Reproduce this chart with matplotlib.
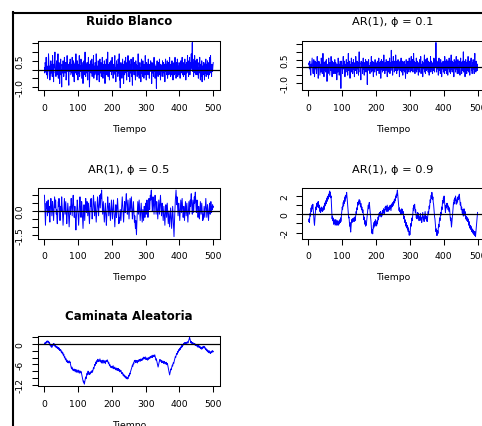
import numpy as np
import matplotlib.pyplot as plt
from matplotlib.lines import Line2D

# --- series (500 observations each) ---
ruido_blanco = [
    0.1, -0.2, 0.4, 0.3, -0.1, 0.7, -0.3, 0.0, 0.2, -0.5, -0.2, 0.1, 0.9, 0.4, -0.1, 0.2, -0.6, -0.3, 0.1, 0.5, -0.2, 0.0, 0.3, -0.4, 0.8,
    0.2, -0.1, -0.7, 0.3, 0.1, 0.6, 1.0, -0.2, 0.0, -0.4, 0.3, 0.5, -0.1, -0.3, 0.2, 0.9, -0.5, 0.1, 0.4, -0.2, -0.8, -0.1, 0.2, 0.6, -0.3,
    0.0, -1.0, 0.3, 0.2, -0.2, 0.5, 0.1, -0.4, -0.1, 0.7, 0.3, -0.2, 0.0, 0.4, -0.6, -0.3, 0.2, 0.8, 0.1, -0.1, 0.3, -0.5, -0.9, 0.2, 0.4,
    -0.1, 0.6, 0.2, -0.3, 0.0, 0.3, -0.2, 0.7, 0.1, -0.4, 0.2, 0.5, -0.1, -0.7, 0.3, 0.0, 0.4, -0.2, 0.9, 0.1, -0.3, -0.1, 0.5, 0.2, -0.6,
    0.3, 0.1, -0.2, 0.8, -0.4, 0.0, 0.2, -0.1, 0.6, 0.3, -0.5, -0.2, 0.1, 0.4, -0.8, 0.2, 0.0, 0.5, -0.3, 0.1, 1.0, -0.1, -0.4, 0.3, 0.2,
    -0.2, 0.4, 0.0, -0.6, 0.2, 0.7, -0.1, 0.3, -1.0, -0.3, 0.1, 0.5, 0.2, -0.2, 0.0, 0.6, -0.4, 0.1, 0.3, -0.1, 0.8, -0.5, 0.2, 0.0, -0.3,
    0.4, 0.1, -0.2, 0.9, 0.3, -0.6, 0.0, 0.2, -0.3, 0.5, 0.1, -0.1, -0.7, 0.3, 0.6, -0.2, 0.0, 0.4, -0.4, 0.2, -0.1, 0.7, 0.1, -0.5, 0.3,
    0.0, -0.2, 0.5, 0.2, -0.8, 0.1, 0.3, -0.1, 0.6, -0.3, 0.2, 0.0, 1.0, -0.4, 0.1, 0.3, -0.2, -0.6, 0.4, 0.1, -0.1, 0.5, 0.2, -0.3, 0.0,
    0.7, -0.1, 0.2, -0.5, 0.3, 0.0, -0.2, 0.4, 0.8, -0.3, 0.1, -0.7, 0.2, 0.5, -0.1, 0.0, 0.3, -0.4, 0.6, 0.1, -0.2, 0.9, -0.6, 0.2, -1.05,
    0.1, 0.4, -0.2, 0.3, -0.5, 0.0, 0.6, 0.2, -0.1, -0.8, 0.3, 0.1, -0.3, 0.5, 0.0, 0.7, -0.2, 0.2, -0.6, 0.4, 0.1, -0.1, 0.8, -0.4, 0.2,
    0.0, 0.5, -0.7, 0.1, 0.3, -0.2, 0.6, 0.2, -0.4, 0.0, -0.9, 0.3, 0.7, -0.1, 0.2, -0.3, 0.4, 0.1, -0.2, -0.6, 0.5, 0.0, 0.3, 0.1, -0.4,
    0.2, -0.1, 0.9, -0.3, 0.1, -0.5, 0.2, 0.4, 0.0, 0.1, -0.7, 0.3, 0.6, -0.2, 0.0, -0.4, 0.5, -0.1, 0.2, -0.5, 0.3, 0.1, -0.3, 0.8, 0.0,
    0.2, -0.6, 0.4, -0.1, 0.3, 0.0, -0.3, 0.6, -0.2, 0.1, -0.5, 0.3, 0.2, -0.1, 0.5, 0.0, 0.2, -0.8, 0.4, 0.1, -0.2, 0.3, -0.4, 0.1, 0.7,
    -0.1, 0.3, -0.5, 0.0, 0.2, -0.3, -1.08, 0.1, 0.5, -0.2, 0.0, -0.4, 0.4, 0.1, -0.3, 0.6, 0.0, 0.2, -0.6, 0.3, -0.1, 0.2, 0.0, -0.4, 0.5,
    -0.2, 0.1, 0.4, -0.4, 0.0, 0.3, -0.7, 0.2, 0.6, -0.1, 0.3, -0.3, 0.0, 0.5, -0.5, 0.1, -0.1, 0.4, -0.3, 0.2, 0.7, -0.2, 0.0, -0.4, 0.3,
    0.1, -0.3, 0.5, -0.1, 0.3, -0.6, 0.2, 0.0, 0.4, -0.3, 0.1, 0.7, -0.2, 0.3, -0.5, 0.0, 0.4, -0.1, 0.6, -0.4, 0.2, 0.0, -0.3, 0.4, -0.1,
    0.3, -0.5, 0.1, 0.5, -0.2, 0.4, 0.0, 0.7, -0.3, 0.2, 0.0, -0.4, 0.4, 0.1, -0.3, 0.6, -0.1, 0.3, -0.6, 0.1, 0.4, -0.2, 0.3, 0.8, -0.1,
    0.2, -0.4, 0.5, 0.1, 0.7, -0.3, 0.3, 0.4, 0.0, 0.9, 0.1, 0.4, 1.55, -0.1, 0.6, 0.2, -0.4, 0.4, 0.0, 0.8, -0.2, 0.3, 0.5, -0.3, 0.1,
    0.0, 0.6, -0.3, 0.2, 0.4, -0.5, 0.1, -0.2, 0.3, 0.7, -0.1, -0.6, 0.3, 0.0, -0.4, 0.5, -0.7, 0.1, 0.2, -0.3, 0.4, -0.1, 0.3, -0.6, 0.1,
    0.4, -0.2, 0.6, -0.4, 0.1, 0.3, -0.3, 0.5, -0.1, 0.2, -0.5, 0.4, 0.0, -0.3, 0.7, -0.1, 0.8, -0.2, 0.1, -0.4, 0.3, 0.0, -0.1, 0.2, 0.4,
]

ar_01 = [
    0.2, 0.3, -0.1, 0.4, 0.1, -0.3, -0.5, 0.2, 0.0, 0.3, 0.6, 0.2, -0.2, -0.4, 0.1, 0.5, 0.2, -0.6, -0.2, 0.4, 0.1, -0.1, 0.3, -0.4, 0.0,
    0.7, 0.2, 0.1, -0.7, -0.2, 0.4, 0.0, 0.3, -0.5, -0.1, 0.2, -0.3, 0.6, 0.1, 0.0, -0.4, 0.3, 0.9, 0.2, -0.1, -0.6, 0.3, 0.1, -0.2, 0.4,
    -0.3, 0.1, 0.5, 0.0, -0.9, -0.2, 0.2, -0.4, 0.1, 0.6, 0.2, 0.3, -0.5, -0.1, 0.3, -0.2, 0.7, 0.1, 0.0, -0.6, 0.4, 0.2, -0.2, 0.3, -0.4,
    0.1, -0.1, 0.5, -0.4, 0.0, 0.3, -0.2, 0.1, -0.8, 0.2, 0.1, -0.3, 0.6, 0.0, 0.2, -0.5, 0.2, -0.1, 0.4, -0.3, -1.35, -0.2, 0.4, 0.0, 0.1,
    -0.4, 0.2, 0.7, -0.1, 0.1, 0.0, 0.4, -0.6, 0.1, 0.2, -0.3, 0.5, 0.2, -0.1, 0.3, -0.5, 0.0, 0.9, -0.2, 0.1, 0.0, 0.4, -0.7, 0.2, 0.1,
    -0.2, 0.6, -0.3, 0.0, 0.3, -0.4, 0.1, 0.5, -0.1, 0.2, -0.6, 0.3, 0.1, -0.2, 0.7, 0.0, 0.1, -0.4, 0.4, 0.2, -0.1, 0.3, -0.5, 0.1, 1.0,
    0.1, 0.3, -0.3, 0.0, -0.8, 0.4, 0.2, 0.0, 0.3, -0.4, 0.1, 0.6, -0.1, 0.1, -0.5, 0.3, -0.1, 0.2, 0.5, -0.3, 0.0, -0.2, 0.4, -1.1, 0.0,
    0.3, 0.1, 0.5, -0.2, 0.1, 0.0, -0.4, 0.3, 0.2, -0.1, 0.7, -0.3, 0.0, -0.2, 0.4, 0.1, -0.6, 0.3, 0.0, 0.2, -0.3, 0.5, 0.1, -0.1, 0.3,
    -0.5, 0.2, 0.0, 0.4, -0.2, 0.1, 0.0, 0.6, -0.4, 0.3, 0.1, -0.2, 0.4, -0.7, 0.2, 0.5, -0.1, 0.0, -0.3, 0.4, 0.2, -0.2, 0.8, 0.0, 0.2,
    -0.4, 0.3, 0.0, -0.2, 0.5, -0.1, 0.4, -0.6, 0.1, 0.0, 0.4, -0.3, 0.2, 0.0, 0.6, -0.4, 0.0, 0.3, -0.2, 1.1, 0.0, 0.4, 0.1, -0.5, 0.2,
    0.7, 0.1, 0.3, -0.3, 0.4, 0.1, -0.2, 0.8, 0.0, 0.1, -0.4, 0.4, 0.2, -0.2, 0.5, 0.1, -0.1, 0.3, -0.6, 0.1, 0.4, -0.2, 0.0, 0.6, -0.3,
    0.2, 0.0, 0.4, -0.5, 0.1, 0.3, -0.2, 0.4, 0.1, -0.3, 0.2, -0.7, 0.0, 0.5, -0.1, 0.3, -0.4, 0.1, 0.4, 0.0, 0.2, -0.3, 0.6, -0.1, 0.0,
    0.4, -0.3, 0.1, 0.7, -0.2, 0.3, 0.0, 0.5, -0.3, 0.2, 0.9, 0.0, 0.4, 0.1, -0.4, 0.3, 0.1, -0.2, 0.6, -0.3, 0.1, 0.4, -0.1, 0.2, -0.5,
    0.3, 0.1, -0.3, 0.5, 0.2, 0.0, 0.7, -0.4, 0.2, 0.0, -0.2, 0.4, -0.6, 0.3, 0.1, -0.1, 0.4, 0.8, -0.3, 0.1, -0.4, 0.5, 0.0, -0.2, 0.3,
    0.6, -0.1, 0.2, -0.3, 0.4, 0.1, -0.5, 0.3, 0.1, 0.0, 0.7, -0.3, 0.2, 0.4, -0.1, 0.0, -0.4, 0.3, 0.1, -0.2, 0.6, 0.1, -0.3, 0.3, 0.5,
    0.0, 1.6, 0.2, -0.3, 0.4, 0.0, -0.1, 0.3, -0.5, 0.1, 0.6, -0.2, 0.3, 0.1, -0.4, 0.5, 0.0, 0.2, -0.6, 0.3, 0.1, -0.1, 0.4, -0.3, 0.1,
    0.3, -0.4, 0.7, 0.0, -0.2, 0.4, 0.1, -0.4, 0.5, 0.0, 0.2, -0.5, 0.4, 0.1, -0.1, 0.6, -0.3, 0.1, 0.4, -0.4, 0.2, 0.8, -0.1, 0.1, -0.3,
    0.4, -0.2, 0.3, 0.0, -0.6, 0.5, 0.2, -0.1, 0.4, -0.3, 0.2, 0.7, -0.1, 0.1, -0.4, 0.3, 0.5, -0.2, 0.1, -0.4, 0.4, 0.0, -0.5, 0.2, 0.6,
    0.0, 0.3, -0.4, 0.1, 0.4, -0.2, 0.1, 1.0, -0.3, 0.2, 0.0, 0.4, -0.6, 0.1, 0.5, -0.1, 0.3, -0.4, 0.1, 0.4, -0.2, 0.7, 0.1, -0.3, 0.2,
    0.4, -0.5, 0.2, 0.0, 0.4, 0.6, -0.2, 0.1, -0.4, 0.3, 0.1, 0.5, -0.1, 0.2, -0.4, 0.4, 0.9, 0.0, 0.2, -0.3, 0.4, 0.1, 0.2, -0.2, 0.2,
]

ar_05 = [
    1.0, 0.3, -0.4, -0.9, -0.2, 0.5, 0.2, 0.6, 0.1, -0.3, 0.2, 0.7, 0.4, -0.1, 0.3, -0.4, -0.7, -0.2, 0.4, 0.8, 0.5, 0.1, -0.3, 0.2, 0.6,
    0.3, -0.2, -0.6, -0.1, 0.4, 0.9, 0.5, 0.2, 0.7, 0.3, -0.2, 0.1, -0.5, -0.8, -0.3, 0.2, 0.6, 0.3, 0.8, 0.4, -0.1, -0.6, -0.2, 0.3, 0.0,
    0.5, 0.9, 0.4, 0.1, -0.4, -0.9, -0.5, 0.0, 0.4, 0.8, 0.3, -0.2, 0.2, 0.6, 0.2, -0.3, -0.8, -0.4, 0.1, 0.5, 0.2, -0.1, -0.6, -1.0, -0.5,
    0.0, 0.3, -0.2, 0.4, 0.8, 0.5, 0.1, -0.3, 0.2, 0.7, 1.0, 0.5, 0.1, -0.4, -0.1, 0.3, -0.2, -0.7, -1.2, -0.6, -0.2, 0.3, 0.7, 0.4, 0.0,
    -0.5, -0.9, -0.4, 0.1, 0.5, 0.9, 0.4, 0.0, -0.4, 0.2, 0.6, 0.3, -0.2, -0.6, -1.1, -0.5, 0.0, 0.4, -0.1, -0.6, -0.2, 0.3, 0.8, 0.4, -0.1,
    0.2, 0.6, 0.2, -0.3, 0.1, 0.5, 0.1, -0.4, -0.8, -0.3, 0.2, 0.7, 0.3, 0.8, 0.4, 0.0, -0.5, -0.2, 0.3, 0.7, 1.0, 0.5, 0.1, -0.3, 0.2,
    0.6, 0.2, -0.2, -0.7, -0.3, 0.1, 0.5, 0.9, 0.5, 0.1, -0.3, 0.2, 0.6, 1.0, 0.6, 0.2, 0.7, 1.1, 0.8, 1.33, 0.7, 0.3, -0.2, 0.2, 0.6,
    0.2, -0.3, -0.7, -0.3, 0.1, 0.5, 0.1, -0.4, -0.9, -0.5, 0.0, 0.4, 0.9, 0.5, 0.1, -0.3, 0.1, 0.5, 0.2, -0.2, -0.6, -0.2, 0.3, 0.7, 0.3,
    -0.1, -0.5, -0.1, 0.3, 0.7, 0.3, -0.2, -0.6, -1.0, -0.5, 0.0, 0.4, 0.1, -0.4, -0.1, 0.3, 0.8, 0.4, 0.0, -0.4, -0.8, -0.4, -0.7, -0.3, 0.1,
    -0.3, -0.6, -0.2, 0.2, 0.6, 0.9, 0.5, 0.1, -0.3, -0.7, -0.2, 0.2, 0.6, 0.3, -0.1, 0.4, 0.8, 1.1, 0.6, 0.2, -0.2, 0.2, 0.7, 0.3, -0.1,
    -0.5, -0.1, 0.3, 0.8, 0.4, 0.0, 0.5, 0.9, 0.4, -0.1, -0.5, -0.2, 0.2, 0.6, 0.2, -0.3, -0.7, -0.3, -0.8, -1.1, -0.6, -1.0, -1.5, -0.8, -0.3,
    0.2, 0.6, 0.2, -0.2, 0.3, 0.7, 0.3, -0.2, -0.6, -0.2, 0.2, 0.5, 0.1, -0.3, -0.7, -0.3, 0.1, -0.3, -0.6, -0.2, 0.3, 0.0, -0.4, 0.1, 0.5,
    0.2, -0.2, 0.3, 0.7, 0.4, 0.0, -0.4, -0.1, 0.4, 0.8, 0.5, 0.1, 0.6, 1.0, 0.7, 1.2, 1.33, 0.8, 0.4, 0.0, 0.5, 0.9, 0.6, 0.2, -0.2,
    0.3, 0.7, 1.0, 0.6, 0.2, -0.2, 0.2, 0.6, 0.3, -0.1, -0.5, -0.1, 0.3, 0.7, 0.3, -0.2, 0.2, 0.6, 1.0, 0.5, 0.1, -0.3, 0.1, 0.5, 0.2,
    -0.2, -0.6, -0.2, 0.3, -0.1, -0.5, -0.9, -0.4, 0.1, 0.4, 0.0, -0.4, 0.1, 0.5, 0.1, -0.3, -0.8, -0.4, 0.0, -0.5, -1.0, -0.6, -0.2, 0.2, -0.2,
    -0.6, -1.1, -0.6, -0.2, 0.3, -0.2, -0.7, -1.2, -1.62, -0.9, -0.3, 0.2, 0.7, 1.0, 1.33, 0.8, 0.4, 0.9, 0.5, 0.1, -0.3, 0.1, 0.5, 0.2, -0.2,
    -0.6, -0.2, 0.3, 0.7, 0.3, -0.1, 0.4, 0.8, 0.4, 0.0, -0.4, -0.1, 0.3, -0.2, -0.6, -0.2, 0.2, 0.6, 0.2, -0.3, 0.1, 0.5, 0.1, -0.3, -0.7,
    -0.3, 0.2, 0.6, 0.2, -0.2, 0.3, 0.7, 0.3, 0.8, 1.1, 0.6, 0.2, -0.2, 0.2, 0.7, 0.3, -0.1, 0.4, 0.9, 0.5, 1.0, 1.2, 0.7, 0.3, -0.1,
    0.3, 0.7, 0.4, 0.0, -0.4, -0.1, 0.3, -0.1, -0.5, -0.2, 0.2, 0.6, 0.2, -0.2, 0.2, 0.5, 0.1, -0.3, -0.6, -0.2, -0.5, -0.1, 0.3, -0.1, -0.4,
    0.0, 0.4, 0.8, 0.4, 0.0, -0.4, 0.0, 0.4, 0.1, -0.3, -0.6, -0.2, 0.2, 0.5, 0.2, -0.2, 0.2, 0.6, 0.3, -0.1, 0.3, 0.1, 0.4, 0.2, 0.3,
]

ar_09 = [
    -0.8, -0.5, -0.9, -0.3, 0.1, -0.2, 0.4, 0.7, 0.3, 0.8,
    1.0, 0.6, 1.1, 0.5, 0.2, -0.4, -0.9, -1.2, -0.6, -0.1,
    0.4, 0.8, 0.5, 1.1, 1.2, 0.8, 1.3, 1.0, 1.4, 1.1,
    0.7, 1.0, 0.5, 0.3, 0.6, 0.2, 0.5, 0.8, 0.4, 0.6,
    0.3, 0.7, 0.4, 0.6, 0.9, 0.5, 0.8, 1.2, 0.9, 1.3,
    1.1, 1.5, 1.2, 1.7, 1.4, 1.9, 1.6, 2.0, 1.7, 2.2,
    1.9, 2.4, 2.55, 2.1, 2.4, 1.8, 2.0, 1.2, 0.3, -0.5,
    -0.2, -0.7, -0.4, -0.9, -1.1, -0.7, -1.0, -0.6, -1.2, -0.9,
    -0.6, -1.1, -0.8, -1.2, -0.7, -1.0, -0.8, -1.2, -0.9, -1.1,
    -0.7, -1.0, -0.6, -0.9, -0.4, -0.8, -0.5, 0.1, 0.4, 0.8,
    0.5, 1.0, 1.3, 0.9, 1.5, 1.2, 1.8, 1.4, 2.0, 1.7,
    2.1, 1.9, 2.4, 2.0, 1.5, 1.0, 0.6, 0.1, -0.4, -0.3,
    -0.8, -1.3, -0.9, -1.6, -1.95, -1.4, -0.9, -0.6, -0.9, -0.5,
    -0.8, -0.5, -0.7, -0.4, -0.8, -0.6, -0.3, -0.7, -0.4, -0.1,
    0.3, 0.1, 0.7, 0.5, 0.9, 1.3, 1.0, 1.4, 1.1, 1.6,
    1.2, 1.5, 1.1, 0.8, 1.2, 0.9, 0.5, 0.8, 0.4, 0.2,
    0.5, 0.1, -0.3, -0.6, -0.3, -0.8, -1.1, -0.7, -1.3, -0.9,
    -1.2, -0.8, -0.5, -0.1, 0.3, 0.7, 1.0, 0.6, 1.1, 1.3,
    0.9, 0.4, 0.0, -0.3, -0.8, -1.4, -1.8, -2.1, -1.7, -2.15,
    -1.6, -1.2, -1.5, -0.9, -1.3, -0.8, -1.1, -0.6, -1.0, -1.3,
    -0.9, -1.2, -0.7, -1.0, -0.6, -0.3, -0.6, -0.2, 0.1, -0.2,
    0.2, -0.1, 0.3, 0.0, -0.3, 0.1, -0.2, 0.2, 0.4, 0.0,
    0.3, 0.6, 0.2, 0.5, 0.1, 0.4, 0.8, 0.5, 0.9, 0.6,
    0.3, 0.7, 1.0, 0.6, 0.3, 0.7, 0.4, 0.8, 0.5, 0.9,
    0.6, 1.0, 0.7, 0.4, 0.8, 1.1, 0.8, 1.2, 0.9, 1.3,
    1.0, 1.4, 1.2, 1.6, 1.3, 1.7, 1.5, 2.0, 1.8, 2.2,
    2.0, 2.4, 2.65, 2.2, 1.8, 1.2, 0.8, 0.4, 0.7, 0.3,
    0.5, 0.1, 0.4, 0.0, 0.3, 0.6, 0.2, 0.5, 0.1, 0.3,
    -0.1, -0.5, -0.2, -0.6, -0.9, -0.6, -1.0, -1.3, -0.9, -1.2,
    -1.5, -1.2, -1.7, -1.4, -1.9, -1.6, -2.0, -2.3, -1.9, -2.25,
    -1.8, -1.4, -1.0, -1.3, -0.8, -0.4, -0.7, -0.2, 0.3, 0.7,
    0.4, 1.0, 0.7, 1.1, 0.6, 0.2, 0.5, 0.0, -0.4, -0.1,
    -0.5, -0.2, 0.2, -0.2, 0.1, -0.3, -0.7, -0.3, -0.6, -0.2,
    0.1, -0.3, -0.7, -0.4, -0.9, -0.5, -0.2, 0.2, -0.2, -0.6,
    -0.3, -0.8, -0.4, -0.1, 0.3, -0.1, -0.5, -0.2, -0.7, -0.4,
    -0.8, -0.5, -0.1, 0.3, 0.0, 0.4, 0.9, 0.6, 1.2, 1.6,
    1.3, 1.9, 2.1, 1.7, 2.4, 2.0, 1.6, 1.9, 1.3, 1.1,
    0.6, 0.2, -0.3, -0.5, -0.9, -1.4, -1.9, -1.6, -2.3, -1.9,
    -2.3, -1.8, -2.1, -1.5, -1.1, -1.4, -0.8, -0.4, -0.7, -0.2,
    0.2, -0.1, 0.4, 0.8, 0.5, 1.1, 1.5, 1.2, 1.8, 1.4,
    2.0, 1.6, 1.1, 0.7, 0.2, 0.6, 1.0, 0.7, 1.2, 0.9,
    1.2, 0.8, 0.5, 0.9, 0.6, 0.3, 0.7, 0.2, -0.3, -0.7,
    -0.4, -1.0, -1.4, -1.0, -0.6, -0.1, 0.4, 0.9, 1.3, 1.1,
    1.6, 1.2, 1.8, 1.5, 2.0, 1.6, 1.1, 1.5, 1.2, 1.7,
    1.4, 1.9, 1.6, 2.0, 1.7, 2.2, 1.8, 1.4, 1.0, 1.3,
    0.9, 0.5, 0.8, 0.4, 0.1, 0.5, 0.2, -0.2, 0.3, 0.6,
    0.2, -0.1, 0.3, -0.2, -0.5, -0.2, -0.6, -0.3, -0.7, -0.4,
    -0.8, -0.5, -0.9, -1.2, -0.8, -1.1, -1.5, -1.2, -1.6, -1.3,
    -1.7, -1.4, -1.9, -1.6, -2.0, -1.7, -2.1, -1.8, -2.2, -1.9,
    -2.3, -1.9, -2.2, -2.45, -2.0, -1.6, -1.1, -0.6, -0.2, 0.2,
]

caminata = [
    0.0, 0.3, -0.2, 0.1, 0.5, 0.2, 0.6, 0.4, 0.9, 0.7,
    0.5, 0.8, 0.4, 0.6, 0.1, 0.3, -0.2, -0.5, -0.1, -0.6,
    -0.9, -0.4, -1.0, -0.6, -0.2, -0.5, 0.0, -0.3, 0.1, -0.2,
    -0.6, -0.3, -0.8, -0.5, -1.0, -0.7, -1.1, -0.8, -1.3, -1.0,
    -1.4, -1.1, -1.6, -1.2, -1.5, -1.9, -1.6, -2.0, -1.7, -2.2,
    -2.5, -2.1, -2.6, -2.9, -2.5, -3.1, -3.4, -3.0, -3.6, -4.0,
    -3.7, -4.3, -4.6, -4.2, -4.8, -5.1, -4.7, -5.2, -5.5, -5.0,
    -5.4, -5.1, -5.6, -5.2, -5.0, -5.5, -5.3, -6.0, -6.4, -6.9,
    -7.3, -6.8, -7.2, -7.6, -7.3, -7.8, -7.5, -7.9, -7.6, -7.4,
    -7.8, -8.2, -7.9, -7.5, -7.8, -8.3, -8.0, -7.7, -8.1, -8.4,
    -8.0, -7.7, -8.2, -8.6, -8.3, -7.9, -8.2, -8.5, -8.1, -8.4,
    -8.9, -9.4, -9.9, -10.3, -10.8, -11.2, -10.9, -11.5, -11.8, -11.2,
    -10.6, -10.1, -9.7, -10.2, -9.6, -9.0, -8.6, -9.1, -8.4, -8.0,
    -8.5, -8.9, -8.6, -9.0, -8.7, -8.3, -8.8, -8.5, -8.1, -8.4,
    -8.2, -7.8, -8.3, -7.9, -7.4, -7.0, -7.3, -6.8, -6.4, -6.0,
    -6.3, -5.7, -5.3, -5.8, -5.2, -4.9, -5.3, -4.8, -4.5, -4.9,
    -5.2, -4.8, -5.1, -4.7, -4.4, -4.9, -5.3, -4.9, -5.2, -5.6,
    -5.1, -4.8, -5.3, -5.7, -5.2, -4.8, -5.1, -5.5, -5.0, -5.4,
    -5.8, -5.3, -4.9, -5.2, -4.8, -5.1, -4.7, -5.0, -5.3, -5.7,
    -5.4, -5.9, -6.3, -6.0, -6.4, -6.8, -6.5, -6.9, -6.6, -7.0,
    -6.6, -7.1, -6.8, -6.4, -6.9, -7.3, -6.9, -7.2, -6.8, -7.3,
    -7.6, -7.2, -7.5, -7.1, -7.4, -7.8, -7.3, -7.6, -7.2, -7.5,
    -7.9, -7.5, -7.8, -8.2, -7.7, -8.1, -7.8, -8.3, -8.7, -8.4,
    -8.8, -8.5, -8.9, -9.3, -8.9, -9.2, -9.6, -9.2, -9.5, -9.9,
    -9.5, -9.8, -10.2, -9.7, -10.0, -10.3, -9.9, -10.2, -9.6, -9.2,
    -9.5, -9.0, -8.6, -8.9, -8.3, -8.0, -7.7, -7.4, -7.0, -6.6,
    -6.2, -6.6, -6.0, -5.6, -5.9, -5.3, -4.9, -5.2, -4.8, -5.1,
    -5.5, -5.0, -5.3, -4.9, -5.2, -5.6, -5.1, -4.8, -5.2, -4.9,
    -4.6, -5.0, -4.7, -5.1, -4.8, -4.4, -4.8, -4.5, -4.9, -4.6,
    -4.2, -4.6, -4.3, -3.9, -4.3, -4.0, -4.4, -4.1, -3.8, -4.2,
    -4.6, -4.2, -4.5, -4.1, -4.4, -4.8, -4.4, -4.1, -4.5, -4.2,
    -3.9, -4.3, -4.0, -3.7, -4.1, -3.8, -3.5, -3.9, -3.6, -4.0,
    -3.6, -3.3, -3.7, -3.4, -3.8, -3.5, -3.2, -3.6, -3.9, -4.3,
    -4.8, -4.4, -5.0, -5.4, -5.9, -6.4, -6.8, -6.3, -5.8, -5.4,
    -5.0, -4.6, -5.0, -4.7, -5.1, -4.8, -5.2, -5.5, -5.1, -5.4,
    -5.0, -5.3, -5.7, -5.3, -5.6, -5.2, -5.5, -5.9, -5.5, -5.8,
    -5.4, -5.7, -6.1, -5.7, -6.0, -6.5, -7.0, -7.6, -8.1, -8.6,
    -9.1, -8.6, -8.2, -7.7, -7.3, -7.6, -7.0, -6.6, -6.2, -6.5,
    -5.9, -5.5, -5.8, -5.3, -4.9, -4.5, -4.1, -3.7, -4.0, -3.5,
    -3.2, -2.8, -3.1, -2.6, -2.2, -2.5, -2.0, -1.7, -2.0, -1.6,
    -1.3, -1.7, -1.2, -0.9, -1.2, -0.8, -0.5, -0.9, -0.5, -0.2,
    -0.4, -0.1, 0.2, -0.1, 0.1, 0.4, 0.0, 0.3, 0.1, 0.4,
    0.2, 0.5, 0.3, 0.6, 0.2, 0.5, 0.8, 1.1, 1.5, 1.9,
    1.5, 1.0, 0.6, 0.3, 0.7, 0.4, 0.1, 0.4, 0.0, 0.3,
    -0.1, 0.2, -0.2, 0.1, -0.3, 0.0, -0.4, -0.1, -0.5, -0.2,
    -0.6, -0.3, -0.8, -0.5, -1.0, -0.6, -0.3, -0.7, -1.1, -0.8,
    -1.2, -0.9, -1.4, -1.0, -1.3, -1.6, -1.2, -0.9, -1.3, -1.0,
    -0.7, -1.1, -0.8, -1.2, -0.9, -1.3, -1.6, -1.3, -1.7, -2.0,
    -1.6, -1.9, -2.3, -1.9, -2.2, -2.6, -2.3, -2.0, -2.4, -2.7,
    -2.4, -2.8, -2.5, -2.2, -2.6, -2.3, -2.0, -2.4, -2.1, -2.3,
]

series = [ruido_blanco, ar_01, ar_05, ar_09, caminata]
titulos = ["Ruido Blanco", "AR(1), ϕ = 0.1", "AR(1), ϕ = 0.5", "AR(1), ϕ = 0.9",
           "Caminata Aleatoria"]
negrita = [True, False, False, False, True]
y_ticks = [[-1.0, -0.5, 0.0, 0.5, 1.0, 1.5],
           [-1.0, -0.5, 0.0, 0.5, 1.0, 1.5],
           [-1.5, -1.0, -0.5, 0.0, 0.5, 1.0],
           [-2, -1, 0, 1, 2],
           [-12, -10, -8, -6, -4, -2, 0, 2]]
y_labels = [["-1.0", "", "", "0.5", "", ""],
            ["-1.0", "", "", "0.5", "", ""],
            ["-1.5", "", "", "0.0", "", ""],
            ["-2", "", "0", "", "2"],
            ["-12", "", "", "-6", "", "", "0", ""]]
x_ticks = [0, 100, 200, 300, 400, 500]

# pixel layout of the plotting regions
W, H = 482, 427
cols = [(37.7, 220.0), (302.0, 484.3)]
rows = [(41.7, 91.2), (189.2, 239.5), (336.5, 387.0)]
slots = [(0, 0), (0, 1), (1, 0), (1, 1), (2, 0)]

fig = plt.figure(figsize=(W / 100, H / 100), dpi=100)
fig.patch.set_facecolor("white")

for i, y in enumerate(series):
    r, c = slots[i]
    x0, x1 = cols[c]
    y0, y1 = rows[r]
    ax = fig.add_axes([x0 / W, 1 - y1 / H, (x1 - x0) / W, (y1 - y0) / H])
    y = np.asarray(y)
    t = np.arange(1, len(y) + 1)
    ax.plot(t, y, color="blue", lw=0.7)
    ax.axhline(0, color="black", lw=0.9)

    # 4% padding around the data, like base R graphics
    px = 0.04 * (t.max() - t.min())
    py = 0.04 * (y.max() - y.min())
    ax.set_xlim(t.min() - px, t.max() + px)
    ax.set_ylim(y.min() - py, y.max() + py)

    ax.set_xticks(x_ticks)
    ax.set_yticks(y_ticks[i])
    ax.set_yticklabels(y_labels[i], rotation=90, va="center")
    ax.tick_params(direction="out", length=4.3, width=0.75, labelsize=6.7,
                   pad=5.0, colors="black")
    for s in ax.spines.values():
        s.set_linewidth(0.75)
    ax.set_xlabel("Tiempo", fontsize=6.7, labelpad=8.6)
    ax.set_title(titulos[i], fontsize=8.5 if negrita[i] else 8.2,
                 fontweight="bold" if negrita[i] else "normal", pad=11.8)

# outer frame on the left and top edges
fig.add_artist(Line2D([13.2 / W, 13.2 / W], [0, 1 - 13.0 / H],
                      transform=fig.transFigure, color="black", lw=1.5))
fig.add_artist(Line2D([12.5 / W, 1], [1 - 13.7 / H, 1 - 13.7 / H],
                      transform=fig.transFigure, color="black", lw=1.5))

fig.savefig("out.png", dpi=100)
